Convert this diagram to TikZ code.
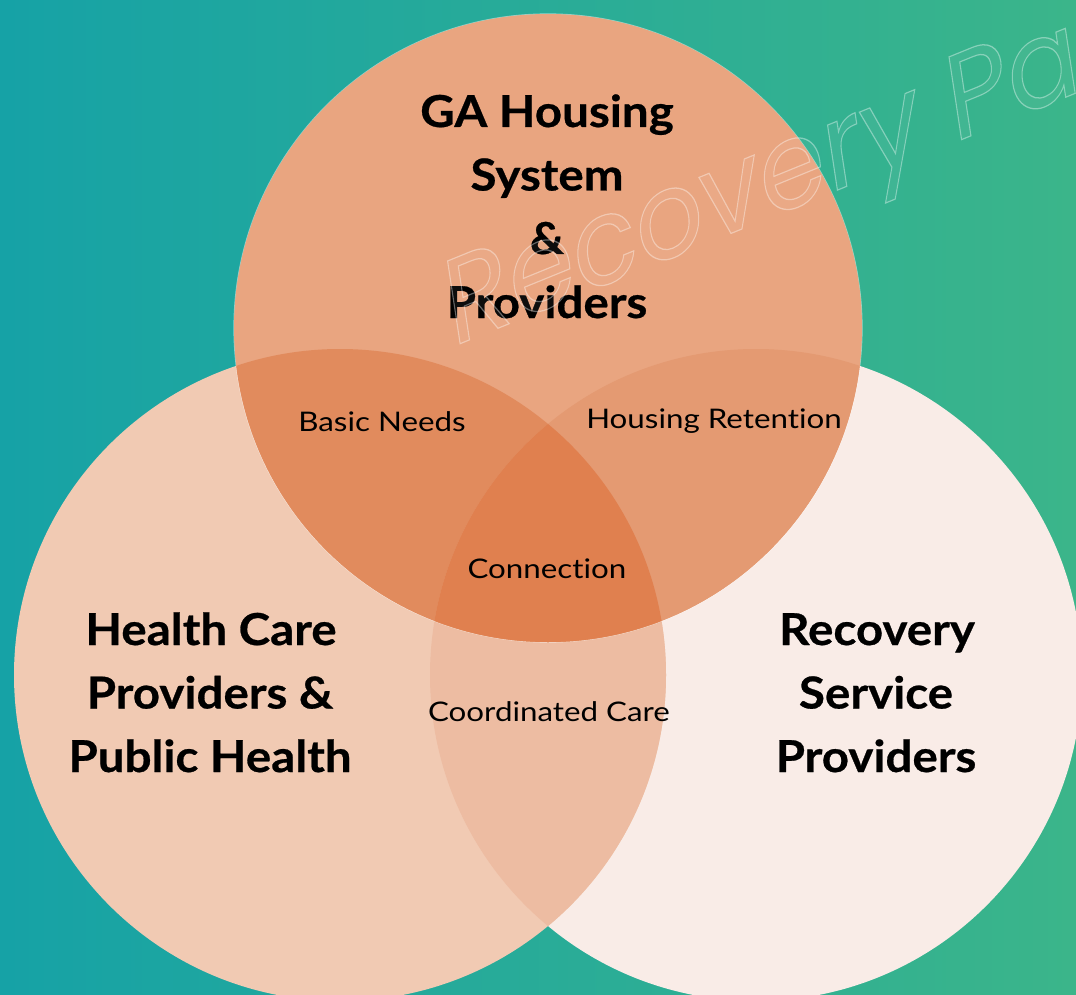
\documentclass[tikz,border=0pt]{standalone}
\usepackage{fontspec}
\setmainfont{Lato}
\newfontfamily\bigf{Lato Bold}[FakeStretch=1.08, FakeBold=0.6, Ligatures=NoCommon]
\newfontfamily\smallf{Lato}[FakeStretch=1.16, Ligatures=NoCommon]
\newfontfamily\wmfont{Poppins}
\begin{document}
\begin{tikzpicture}[x=1pt,y=-1pt,
  big/.style={font=\bigf\fontsize{44}{64}\selectfont, text=black, inner sep=0pt, anchor=base},
  small/.style={font=\smallf\fontsize{27}{34}\selectfont, text=black, inner sep=0pt, anchor=base}]
\definecolor{bgL}{HTML}{16A2A6}
\definecolor{bgR}{HTML}{3BB58A}
\definecolor{cT}{HTML}{E9A580}
\definecolor{cL}{HTML}{F1CAB3}
\definecolor{cR}{HTML}{F9ECE7}
\definecolor{cLR}{HTML}{EDBCA2}
\definecolor{cTL}{HTML}{E18B5D}
\definecolor{cTR}{HTML}{E49A72}
\definecolor{cTLR}{HTML}{E0804F}
\useasboundingbox (0,0) rectangle (1076,995);
\clip (0,0) rectangle (1076,995);
\shade[left color=bgL, right color=bgR] (0,0) rectangle (1076,995);
\coordinate (ct) at (548,328);
\coordinate (cl) at (340,675);
\coordinate (cr) at (756,675);
\def\circT{(ct) circle[radius=314pt]}
\def\circL{(cl) circle[radius=326pt]}
\def\circR{(cr) circle[radius=326pt]}
\fill[cR] \circR;
\fill[cL] \circL;
\begin{scope}
  \clip \circL;
  \fill[cLR] \circR;
\end{scope}
\draw[white, opacity=0.5, line width=1.2pt] \circT;
\fill[cT] \circT;
\begin{scope}
  \clip \circT;
  \fill[cTL] \circL;
  \fill[cTR] \circR;
  \begin{scope}
    \clip \circL;
    \fill[cTLR] \circR;
  \end{scope}
\end{scope}
% labels
\node[big] (t1) at (547,127) {GA Housing};
\node[big] (t2) at (547,190.5) {System};
\node[big] (t3) at (547,254) {\&};
\node[big] (t4) at (547,318) {Providers};
\node[big] (l1) at (211,645) {Health Care};
\node[big] (l2) at (210,708.5) {Providers \&};
\node[big] (l3) at (210,772) {Public Health};
\node[big] (r1) at (877,645) {Recovery};
\node[big] (r2) at (876,708.5) {Service};
\node[big] (r3) at (876,772) {Providers};
\node[small] (bn) at (382,431) {Basic Needs};
\node[small] (hr) at (714,428) {Housing Retention};
\node[small] (cn) at (547,578) {Connection};
\node[small] (cc) at (549,721) {Coordinated Care};
% watermark
\node[anchor=base west, inner sep=0pt, text=white,
  cm={0.86,0.35,-0.15,0.989,(0,0)},
  font=\wmfont\fontsize{120}{120}\selectfont] (wm) at (452,347)
  {\pgfsetfillopacity{0.05}\pgfsetstrokeopacity{0.38}\special{pdf:code 2 Tr 1.2 w}Recovery Pa\special{pdf:code 0 Tr}};
\end{tikzpicture}
\end{document}
